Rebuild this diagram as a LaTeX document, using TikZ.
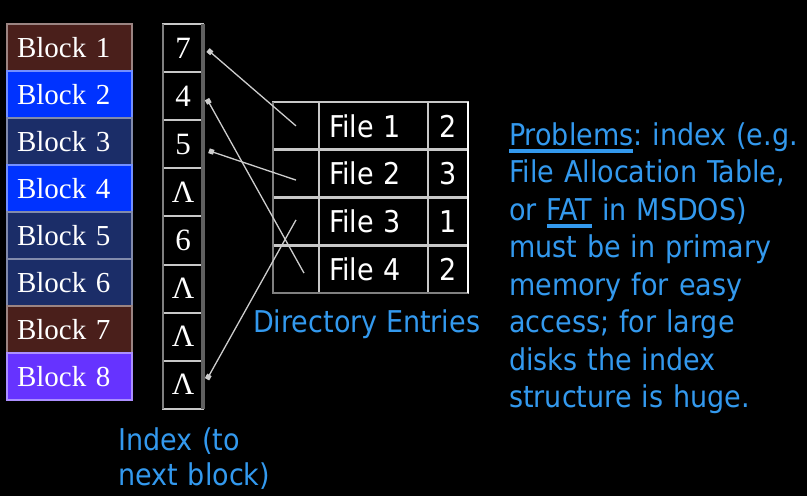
\documentclass[tikz,border=0pt]{standalone}
\usepackage{fontspec}
\setmainfont{Liberation Serif}
\newfontfamily\tah{DejaVu Sans Condensed}
\usetikzlibrary{arrows.meta}

\definecolor{brownc}{RGB}{74,31,27}
\definecolor{blueb}{RGB}{0,51,255}
\definecolor{navyb}{RGB}{27,45,104}
\definecolor{purpleb}{RGB}{102,51,255}
\definecolor{txtblue}{RGB}{51,153,238}
\definecolor{cellline}{RGB}{200,200,200}
\definecolor{edgegray}{RGB}{128,128,128}
\definecolor{shadegray}{RGB}{96,96,96}
\definecolor{linkgray}{RGB}{205,205,205}

% underline drawn as a thick rule below the word
\newcommand\ulword[1]{\setbox0\hbox{#1}\rlap{\rule[-8pt]{\wd0}{4pt}}\box0\relax}

\begin{document}
\begin{tikzpicture}[x=1pt,y=-1pt,
  blockcell/.style={minimum height=47pt, text width=105pt, inner xsep=10pt,
    inner ysep=0pt, outer sep=0pt, align=left, line width=2.5pt, text=white,
    fill=#1, draw=#1!55!white, font=\fontsize{29}{34}\selectfont},
  idxcell/.style={minimum width=40pt, minimum height=48.1pt, inner sep=0pt,
    outer sep=0pt, draw=cellline, line width=2pt, text=white,
    font=\fontsize{31}{36}\selectfont},
  dircell/.style={minimum height=47.75pt, inner ysep=0pt, outer sep=0pt,
    draw=cellline, line width=2.5pt, text=white,
    font=\tah\fontsize{30}{36}\selectfont},
  namecell/.style={dircell, text width=89pt, inner xsep=10pt, align=left},
  numcell/.style={dircell, minimum width=40pt, inner xsep=0pt},
  slotcell/.style={dircell, minimum width=46pt, inner xsep=0pt},
  bluetext/.style={text=txtblue, inner sep=0pt, align=left,
    font=\tah\fontsize{30}{37.5}\selectfont\frenchspacing},
  link/.style={draw=linkgray, line width=1.3pt, -{Square[length=5pt,width=5pt]}}
]
\fill[black] (0,0) rectangle (807,496);
\useasboundingbox (0,0) rectangle (807,496);

% disk blocks
\node[blockcell=brownc]  (b1) at (69.5, 47.5) {Block 1};
\node[blockcell=blueb]   (b2) at (69.5, 94.5) {Block 2};
\node[blockcell=navyb]   (b3) at (69.5,141.5) {Block 3};
\node[blockcell=blueb]   (b4) at (69.5,188.5) {Block 4};
\node[blockcell=navyb]   (b5) at (69.5,235.5) {Block 5};
\node[blockcell=navyb]   (b6) at (69.5,282.5) {Block 6};
\node[blockcell=brownc]  (b7) at (69.5,329.5) {Block 7};
\node[blockcell=purpleb] (b8) at (69.5,376.5) {Block 8};

% index table
\node[idxcell] (i1) at (183, 48.05) {7};
\node[idxcell] (i2) at (183, 96.15) {4};
\node[idxcell] (i3) at (183,144.25) {5};
\node[idxcell] (i4) at (183,192.35) {Λ};
\node[idxcell] (i5) at (183,240.45) {6};
\node[idxcell] (i6) at (183,288.55) {Λ};
\node[idxcell] (i7) at (183,336.65) {Λ};
\node[idxcell] (i8) at (183,384.75) {Λ};
\draw[edgegray, line width=2pt] (i1.north west) -- (i8.south west);
\draw[shadegray, line width=4pt] (i1.north east) -- (i8.south east);

% directory entries
\node[slotcell] (d1a) at (296,125.9) {};
\node[namecell] (d1b) at (373.5,125.9) {File 1};
\node[numcell]  (d1c) at (448,125.9) {2};
\node[slotcell] (d2a) at (296,173.6) {};
\node[namecell] (d2b) at (373.5,173.6) {File 2};
\node[numcell]  (d2c) at (448,173.6) {3};
\node[slotcell] (d3a) at (296,221.4) {};
\node[namecell] (d3b) at (373.5,221.4) {File 3};
\node[numcell]  (d3c) at (448,221.4) {1};
\node[slotcell] (d4a) at (296,269.1) {};
\node[namecell] (d4b) at (373.5,269.1) {File 4};
\node[numcell]  (d4c) at (448,269.1) {2};
\draw[edgegray, line width=2.5pt] (d1a.north west) -- (d4a.south west) -- (d4c.south east);
\draw[white, line width=2pt] (d1c.north east) -- (d4c.south east);

% pointers from directory entries to their first index slot
\draw[link] (d1a.center) -- ([xshift=5pt,yshift=-2pt]i1.east);
\draw[link] ([yshift=-6.5pt]d2a.center) -- ([xshift=6pt,yshift=-6.5pt]i3.east);
\draw[link] ([yshift=1.5pt]d3a.center) -- ([xshift=4pt,yshift=5.5pt]i8.east);
\draw[link] ([xshift=8pt,yshift=-4pt]d4a.center) -- ([xshift=4pt,yshift=-3pt]i2.east);

% labels
\node[bluetext, anchor=base west] (dirlabel) at (253,332) {Directory Entries};
\node[bluetext, anchor=base west, text width=200pt,
  font=\tah\fontsize{30}{35.5}\selectfont] (idxlabel) at (118,450) {Index (to\\next block)};
\node[bluetext, anchor=base west, text width=320pt] (problems) at (509,145)
  {\ulword{Problems}: index (e.g.\\
   File Allocation Table,\\
   or \ulword{FAT} in MSDOS)\\
   must be in primary\\
   memory for easy\\
   access; for large\\
   disks the index\\
   structure is huge.};
\end{tikzpicture}
\end{document}
